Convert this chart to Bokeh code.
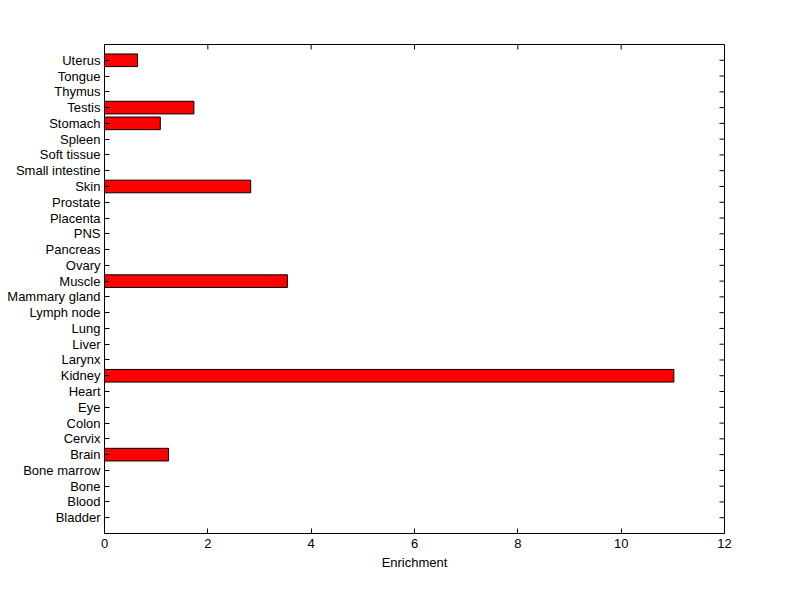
import math
from bokeh.plotting import figure
from bokeh.models import FixedTicker, Range1d, ColumnDataSource
from bokeh.embed import file_html
from bokeh.resources import INLINE

tissues = ["Bladder", "Blood", "Bone", "Bone marrow", "Brain", "Cervix", "Colon", "Eye",
           "Heart", "Kidney", "Larynx", "Liver", "Lung", "Lymph node", "Mammary gland",
           "Muscle", "Ovary", "Pancreas", "PNS", "Placenta", "Prostate", "Skin",
           "Small intestine", "Soft tissue", "Spleen", "Stomach", "Testis", "Thymus",
           "Tongue", "Uterus"]
enrichment = [0, 0, 0, 0, 1.24, 0, 0, 0,
              0, 11.02, 0, 0, 0, 0, 0,
              3.54, 0, 0, 0, 0, 0, 2.83,
              0, 0, 0, 1.08, 1.73, 0,
              0, 0.64]
x_ticks = [0, 2, 4, 6, 8, 10, 12]

pos = list(range(1, len(tissues) + 1))
src = ColumnDataSource(dict(y=pos, x=enrichment, name=tissues))
x_max = x_ticks[-1]
y_max = len(tissues) + 1

FONT = "Liberation Sans"

p = figure(width=784, height=583, output_backend="svg", toolbar_location=None,
           x_range=Range1d(0, x_max), y_range=Range1d(0, y_max),
           min_border_left=104, min_border_right=60, min_border_top=44, min_border_bottom=50)
p.background_fill_color = "white"
p.border_fill_color = "white"
p.outline_line_color = "black"
p.outline_line_width = 1
p.grid.visible = False

p.hbar(y="y", right="x", left=0, height=0.8, source=src,
       fill_color="#FF0000", line_color="black", line_width=1)

def style(ax):
    ax.major_tick_in = 5
    ax.major_tick_out = 0
    ax.minor_tick_in = 0
    ax.minor_tick_out = 0
    ax.axis_line_color = "black"
    ax.major_tick_line_color = "black"
    ax.major_label_text_font = FONT
    ax.major_label_text_font_size = "13px"
    ax.major_label_text_color = "black"

xa = p.xaxis[0]
xa.ticker = FixedTicker(ticks=x_ticks)
style(xa)
xa.major_label_standoff = 5
xa.axis_label = "Enrichment"
xa.axis_label_text_font = FONT
xa.axis_label_text_font_size = "13px"
xa.axis_label_text_font_style = "normal"
xa.axis_label_text_color = "black"
xa.axis_label_standoff = 4

ya = p.yaxis[0]
ya.ticker = FixedTicker(ticks=pos)
ya.major_label_overrides = {i: t for i, t in zip(pos, tissues)}
style(ya)
ya.major_label_standoff = 4

# mirrored inward ticks on the top and right edges of the box
p.ray(x=[x_max] * len(pos), y=pos, length=5, length_units="screen",
      angle=math.pi, line_color="black", line_width=1)
p.ray(x=x_ticks, y=[y_max] * len(x_ticks), length=5, length_units="screen",
      angle=-math.pi / 2, line_color="black", line_width=1)

open("out.html", "w").write(file_html(p, INLINE))
